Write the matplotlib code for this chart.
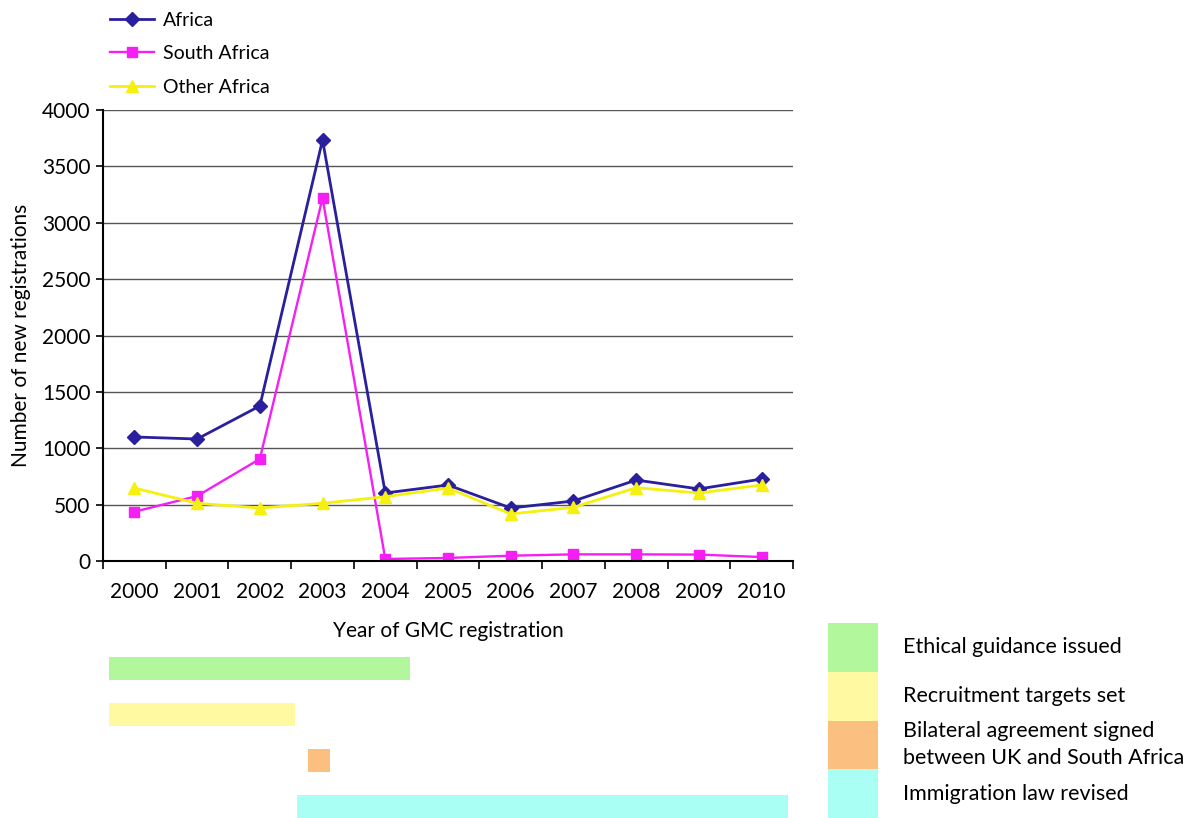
import matplotlib.pyplot as plt
from matplotlib.ticker import FixedLocator

plt.rcParams['font.family'] = ['Lato', 'DejaVu Sans']

years = ["2000", "2001", "2002", "2003", "2004", "2005",
         "2006", "2007", "2008", "2009", "2010"]
africa = [1100, 1082, 1375, 3734, 603, 674, 470, 532, 718, 639, 727]
south_africa = [437, 576, 905, 3219, 18, 27, 47, 59, 59, 57, 35]
other_africa = [647, 512, 470, 512, 570, 647, 417, 476, 650, 603, 674]

# policy timeline, in category units (0 = 2000)
events = ["Ethical guidance issued", "Recruitment targets set",
          "Bilateral agreement signed\nbetween UK and South Africa",
          "Immigration law revised"]
ev_start = [-0.41, -0.41, 2.77, 2.60]
ev_end = [4.40, 2.56, 3.12, 10.42]
ev_colors = ["#b2f79c", "#fffaa2", "#fbbf80", "#aafff5"]

fig = plt.figure(figsize=(12.01, 8.18), dpi=100)

ax = fig.add_axes([103 / 1201, 1 - 561 / 818, 690 / 1201, 451 / 818])
x = list(range(len(years)))
ax.plot(x, africa, color="#2a1f9c", lw=2, marker="D", ms=7.5, label="Africa")
ax.plot(x, south_africa, color="#f51ef5", lw=1.7, marker="s", ms=7, label="South Africa")
ax.plot(x, other_africa, color="#f5f00f", lw=2, marker="^", ms=8.5, label="Other Africa")

ax.set_xlim(-0.5, 10.5)
ax.set_ylim(0, 4000)
ax.set_yticks(range(0, 4001, 500))
ax.yaxis.grid(True, color="#555555", lw=1)
ax.set_axisbelow(True)
ax.set_xticks(x)
ax.set_xticklabels(years)
ax.xaxis.set_minor_locator(FixedLocator([i - 0.5 for i in range(12)]))
ax.tick_params(axis="x", which="major", length=0, pad=15, labelsize=15)
ax.tick_params(axis="x", which="minor", length=6, width=1.2, direction="out")
ax.tick_params(axis="y", length=5, width=1.2, pad=4, labelsize=15)
for s in ["top", "right"]:
    ax.spines[s].set_visible(False)
ax.spines["left"].set_linewidth(1.5)
ax.spines["bottom"].set_linewidth(1.5)
ax.set_ylabel("Number of new registrations", fontsize=15, labelpad=8)
ax.set_xlabel("Year of GMC registration", fontsize=15, labelpad=14)

fig.legend(loc="upper left", bbox_to_anchor=(100 / 1201, 1 - 2 / 818),
           frameon=False, fontsize=14, handlelength=2.3, handletextpad=0.45,
           labelspacing=0.85, borderpad=0)

# timeline bars
tl = fig.add_axes([103 / 1201, 0, 690 / 1201, 172 / 818])
rows = list(range(len(events)))
tl.barh(rows, [e - s for s, e in zip(ev_start, ev_end)], left=ev_start,
        height=0.5, color=ev_colors)
tl.set_xlim(-0.5, 10.5)
tl.set_ylim(3.24, -0.5)
tl.axis("off")

# colour key
key = fig.add_axes([828 / 1201, 0, 50 / 1201, 195 / 818])
key.barh(rows, [1] * len(rows), left=0, height=1.0, color=ev_colors)
key.set_xlim(0, 1)
key.set_ylim(3.5, -0.5)
key.axis("off")
for r, lab in zip(rows, events):
    key.text(1.5, r, lab, fontsize=15.5, va="center", ha="left", clip_on=False,
             linespacing=1.45)

fig.savefig("out.png", dpi=100)
